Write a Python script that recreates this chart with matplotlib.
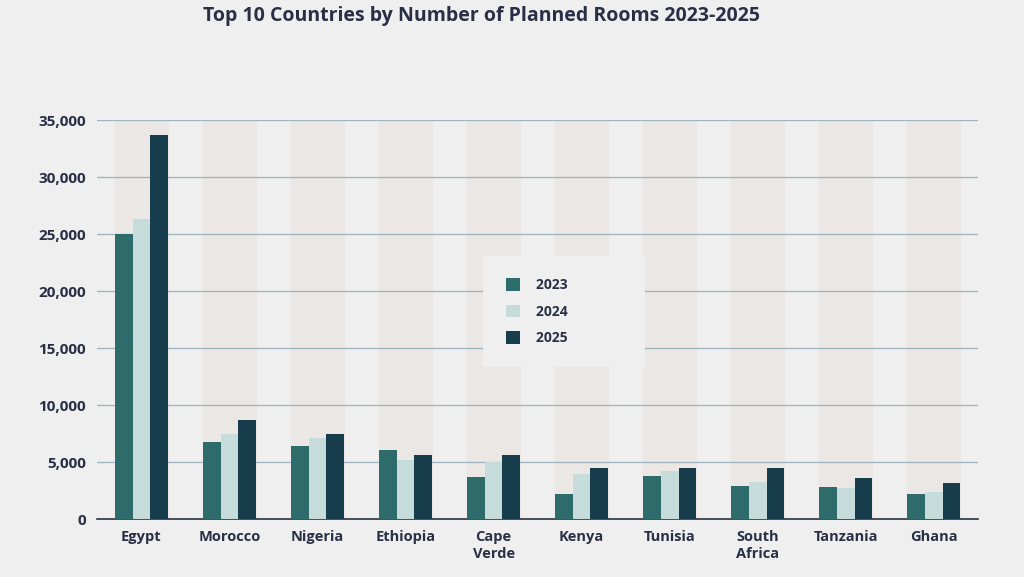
import numpy as np
import matplotlib.pyplot as plt

countries = ['Egypt', 'Morocco', 'Nigeria', 'Ethiopia', 'Cape\nVerde', 'Kenya',
             'Tunisia', 'South\nAfrica', 'Tanzania', 'Ghana']
rooms_2023 = [25000, 6750, 6400, 6100, 3700, 2200, 3800, 2900, 2800, 2200]
rooms_2024 = [26300, 7450, 7100, 5200, 5000, 4000, 4200, 3300, 2700, 2400]
rooms_2025 = [33700, 8700, 7450, 5600, 5600, 4500, 4500, 4500, 3600, 3200]
years = ['2023', '2024', '2025']
colors = ['#2e6b6b', '#c5dcdb', '#173d4d']

plt.rcParams['font.family'] = 'Open Sans'
fig = plt.figure(figsize=(10.24, 5.77), dpi=100)
fig.patch.set_facecolor('#efefef')
ax = fig.add_axes([0.095, 0.1, 0.86, 0.692])
ax.set_facecolor('#efefef')

x = np.arange(len(countries))
w = 0.2
# background column stripes
for i in x:
    ax.axvspan(i - 0.3, i + 0.3, color='#ebe7e4', zorder=0)

for k, (vals, c) in enumerate(zip([rooms_2023, rooms_2024, rooms_2025], colors)):
    ax.bar(x + (k - 1) * w, vals, w, color=c, label=years[k], zorder=3)

ax.set_ylim(0, 35000)
ax.set_xlim(-0.5, 9.5)
ax.set_yticks(range(0, 35001, 5000))
ax.set_yticklabels([f'{v:,}' for v in range(0, 35001, 5000)], fontweight='bold', color='#2a2f45', fontsize=11)
ax.yaxis.grid(True, color='#9fb3bf', lw=0.9, zorder=1)
ax.set_xticks(x)
ax.set_xticklabels(countries, fontweight='bold', color='#2a2f45', fontsize=10.5, va='top')
ax.tick_params(length=0, pad=8)
for s in ['top', 'right', 'left']:
    ax.spines[s].set_visible(False)
ax.spines['bottom'].set_color('#2a2f45')
ax.spines['bottom'].set_linewidth(1.2)

leg = ax.legend(loc='center', bbox_to_anchor=(0.53, 0.52), frameon=True, facecolor='#efefef',
                edgecolor='none', framealpha=1, fontsize=11, prop={'weight': 'bold'},
                borderpad=1.6, handlelength=1.0, handleheight=1.0, labelspacing=0.9,
                handletextpad=1.2)
for t in leg.get_texts():
    t.set_color('#2a2f45')
    t.set_text(t.get_text() + '               ')

fig.suptitle('Top 10 Countries by Number of Planned Rooms 2023-2025', fontsize=14,
             fontweight='bold', color='#2a2f45', x=0.47, y=0.99)
fig.savefig('out.png', dpi=100, facecolor=fig.get_facecolor())
